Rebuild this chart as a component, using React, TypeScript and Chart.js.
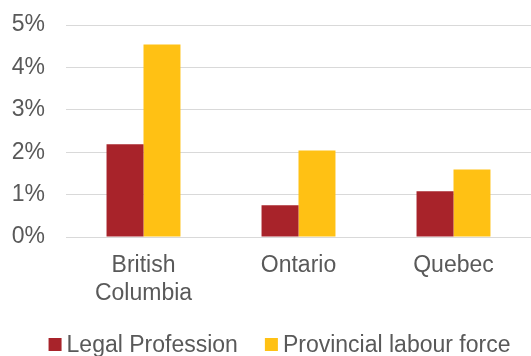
import React, { useEffect, useRef } from "react";
import { Chart, registerables } from "chart.js";

Chart.register(...registerables);

const categories: (string | string[])[] = [["British", "Columbia"], "Ontario", "Quebec"];
const legalProfession = [2.19, 0.75, 1.08];
const provincialLabourForce = [4.54, 2.04, 1.59];
const seriesNames = ["Legal Profession", "Provincial labour force"];
const seriesColors = ["#A8232A", "#FFC114"];
const yTicks = [0, 1, 2, 3, 4, 5];

const FONT = "'Liberation Sans', Arial, sans-serif";
const TEXT = "#595959";

const legendPlugin = {
  id: "customLegend",
  afterDraw(chart: any) {
    const ctx = chart.ctx;
    ctx.save();
    ctx.font = `23px ${FONT}`;
    ctx.textBaseline = "middle";
    ctx.textAlign = "left";
    const box = 13;
    const gapText = 5;
    const gapItem = 27;
    const widths = seriesNames.map((n) => box + gapText + ctx.measureText(n).width);
    const total = widths.reduce((a, b) => a + b, 0) + gapItem * (widths.length - 1);
    let x = chart.width / 2 + 14 - total / 2;
    const yMid = chart.height - 11.5;
    seriesNames.forEach((n, i) => {
      ctx.fillStyle = seriesColors[i];
      ctx.fillRect(x, yMid - box / 2, box, box);
      ctx.fillStyle = TEXT;
      ctx.fillText(n, x + box + gapText, yMid + 1);
      x += widths[i] + gapItem;
    });
    ctx.restore();
  },
};

export default function App() {
  const ref = useRef<HTMLCanvasElement>(null);
  useEffect(() => {
    if (!ref.current) return;
    const chart = new Chart(ref.current, {
      type: "bar",
      data: {
        labels: categories,
        datasets: [
          {
            label: seriesNames[0],
            data: legalProfession,
            backgroundColor: seriesColors[0],
            categoryPercentage: 0.477,
            barPercentage: 1,
          },
          {
            label: seriesNames[1],
            data: provincialLabourForce,
            backgroundColor: seriesColors[1],
            categoryPercentage: 0.477,
            barPercentage: 1,
          },
        ],
      },
      options: {
        animation: false,
        responsive: false,
        maintainAspectRatio: false,
        layout: { padding: { top: 25, right: 0, left: 0, bottom: 39 } },
        plugins: {
          legend: { display: false },
          tooltip: { enabled: false },
        },
        scales: {
          x: {
            afterFit: (axis: any) => {
              axis.height = 80;
              axis.paddingLeft = 0;
              axis.paddingRight = 0;
            },
            grid: { display: false, drawTicks: false },
            border: { display: false },
            ticks: {
              color: TEXT,
              font: { family: FONT, size: 23 },
              padding: 15,
              maxRotation: 0,
            },
          },
          y: {
            min: yTicks[0],
            max: yTicks[yTicks.length - 1],
            afterBuildTicks: (axis: any) => {
              axis.ticks = yTicks.map((v) => ({ value: v }));
            },
            afterFit: (axis: any) => {
              axis.width = 66;
              axis.paddingTop = 0;
              axis.paddingBottom = 0;
            },
            grid: { color: "#D9D9D9", lineWidth: 1, drawTicks: false },
            border: { display: false },
            ticks: {
              color: TEXT,
              font: { family: FONT, size: 23 },
              padding: 21,
              callback: (v: any) => `${v}%`,
            },
          },
        },
      },
      plugins: [legendPlugin],
    });
    return () => chart.destroy();
  }, []);
  return (
    <div style={{ position: "fixed", left: 0, top: 0, width: 531, height: 356, background: "#fff" }}>
      <canvas ref={ref} width={531} height={356} style={{ display: "block" }} />
    </div>
  );
}
